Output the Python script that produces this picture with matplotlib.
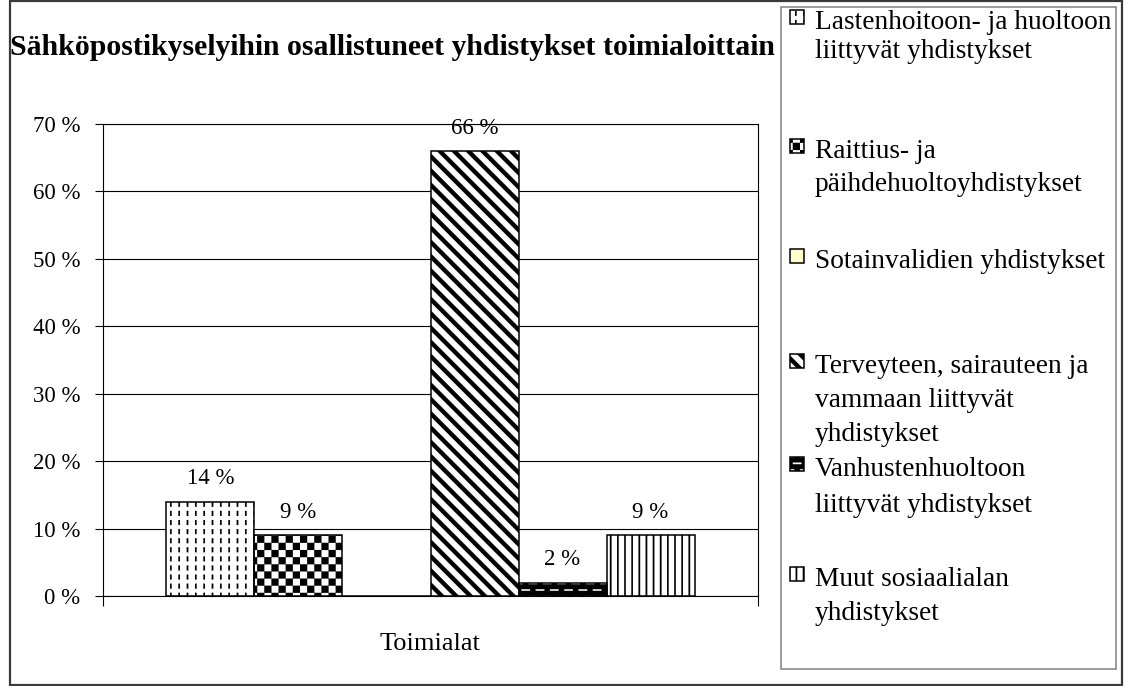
import warnings
import numpy as np
import matplotlib
matplotlib.use("Agg")
import matplotlib.pyplot as plt
import matplotlib.hatch as mhatch
from matplotlib.path import Path
from matplotlib.patches import Rectangle

warnings.filterwarnings("ignore")

# ---------------- data ----------------
title = "Sähköpostikyselyihin osallistuneet yhdistykset toimialoittain"
categories = ["Toimialat"]
series_labels = [
    "Lastenhoitoon- ja huoltoon\nliittyvät yhdistykset",
    "Raittius- ja\npäihdehuoltoyhdistykset",
    "Sotainvalidien yhdistykset",
    "Terveyteen, sairauteen ja\nvammaan liittyvät\nyhdistykset",
    "Vanhustenhuoltoon\nliittyvät yhdistykset",
    "Muut sosiaalialan\nyhdistykset",
]
values = [14, 9, 0, 66, 2, 9]
y_ticks = [0, 10, 20, 30, 40, 50, 60, 70]
y_tick_labels = ["0 %", "10 %", "20 %", "30 %", "40 %", "50 %", "60 %", "70 %"]

# ---------------- styles ----------------
face_colors = ["white", "white", "#FFFFCC", "white", "black", "white"]
hatch_colors = ["black", "black", "black", "black", "white", "black"]
hatch_codes = ["d", "c", None, "s", "b", "v"]

plt.rcParams["hatch.linewidth"] = 0.1
plt.rcParams["font.family"] = ["Liberation Serif", "DejaVu Serif"]


# ---------------- custom hatch patterns (filled polygons) ----------------
def _rect(x0, y0, w, h):
    return [(x0, y0), (x0 + w, y0), (x0 + w, y0 + h), (x0, y0 + h)]


class _PolyHatch(mhatch.HatchPatternBase):
    key = "?"

    def __init__(self, hatch, density):
        self.polys = self.build() if (hatch and self.key in hatch) else []
        self.num_vertices = 5 * len(self.polys)

    def build(self):
        return []

    def set_vertices_and_codes(self, vertices, codes):
        for i, p in enumerate(self.polys):
            vertices[5 * i:5 * i + 4] = p
            vertices[5 * i + 4] = p[0]
            codes[5 * i] = Path.MOVETO
            codes[5 * i + 1:5 * i + 4] = Path.LINETO
            codes[5 * i + 4] = Path.CLOSEPOLY


class DashVHatch(_PolyHatch):
    key = "d"

    def build(self):
        nc, nr = 12, 11
        return [_rect((i + 0.5) / nc - 0.008, (j + 0.25) / nr, 0.016, 0.05)
                for i in range(nc) for j in range(nr)]


class CheckHatch(_PolyHatch):
    key = "c"

    def build(self):
        n = 14
        s = 1.0 / n
        return [_rect(i * s, j * s, s, s)
                for i in range(n) for j in range(n) if (i + j) % 2 == 0]


class DiagHatch(_PolyHatch):
    key = "s"

    def build(self):
        n, w = 7, 0.06
        polys = []
        for k in range(-1, 2 * n + 2):
            c = k / n
            polys.append([(-1, c + 1), (2, c - 2), (2, c - 2 + w), (-1, c + 1 + w)])
        return polys


class VLineHatch(_PolyHatch):
    key = "v"

    def build(self):
        n, w = 14, 0.016
        return [_rect((i + 0.5) / n - w / 2, -0.01, w, 1.02) for i in range(n)]


class DashHHatch(_PolyHatch):
    key = "b"

    def build(self):
        nr, nc = 15, 7
        polys = []
        for j in range(nr):
            off = 0.5 if j % 2 else 0.0
            for i in range(-1, nc + 1):
                x0 = (i + off) / nc
                polys.append(_rect(x0, (j + 0.5) / nr - 0.0075, 0.6 / nc, 0.015))
        return polys


mhatch._hatch_types.extend([DashVHatch, CheckHatch, DiagHatch, VLineHatch, DashHHatch])

# ---------------- figure ----------------
W, H = 1124, 686
fig = plt.figure(figsize=(W / 100, H / 100), dpi=100)
fig.patch.set_facecolor("white")


def fx(x):
    return x / W


def fy(y):
    return 1 - y / H


ax = fig.add_axes([fx(103), fy(596), (758 - 103) / W, (596 - 124) / H])
ax.set_xlim(-0.5, 0.5)
ax.set_ylim(0, 70)

n = len(values)
bw = 0.1344
xs = [(i - (n - 1) / 2) * bw for i in range(n)]

for i in range(n):
    ax.bar(xs[i], values[i], width=bw, color=face_colors[i], hatch=hatch_codes[i],
           edgecolor=hatch_colors[i], linewidth=0, zorder=2)
    ax.bar(xs[i], values[i], width=bw, facecolor="none", edgecolor="black",
           linewidth=1.1, zorder=3)
    if values[i] > 0:
        ax.annotate(f"{values[i]} %", (xs[i], values[i]), xytext=(0, 16.5),
                    textcoords="offset points", ha="center", va="center",
                    fontsize=16.5)

ax.set_yticks(y_ticks, labels=y_tick_labels)
ax.yaxis.grid(True, color="black", linewidth=0.8)
ax.set_axisbelow(True)
ax.tick_params(axis="y", direction="out", length=5.8, width=0.8, pad=10.5,
               labelsize=16.5, colors="black")
ax.set_xticks([0], labels=categories)
ax.tick_params(axis="x", which="major", length=0, pad=27, labelsize=19)
ax.set_xticks([-0.5, 0.5], minor=True)
ax.tick_params(axis="x", which="minor", direction="out", length=7.2, width=0.8)
for sp in ax.spines.values():
    sp.set_color("black")
    sp.set_linewidth(0.8)

# outer frame
fig.add_artist(Rectangle((fx(10), fy(685)), (1122 - 10) / W, (685 - 1) / H,
                         transform=fig.transFigure, fill=False,
                         edgecolor="#3a3a3a", linewidth=1.6))

# title, fitted to width
t = fig.text(fx(10), fy(55), title, fontweight="bold", fontsize=20,
             ha="left", va="baseline")
fig.canvas.draw()
wpx = t.get_window_extent().width
t.set_fontsize(20 * (773 - 10) / wpx)

# legend box
fig.add_artist(Rectangle((fx(781), fy(669)), (1116 - 781) / W, (669 - 7) / H,
                         transform=fig.transFigure, fill=False,
                         edgecolor="#808080", linewidth=1.1))

line_baselines = [[29, 58], [158, 191], [268], [373, 407, 441], [476, 512], [586, 620]]
for i, lab in enumerate(series_labels):
    bl = line_baselines[i]
    # swatch
    sx0, sy0, ss = 790, bl[0] - 19, 14
    fig.add_artist(Rectangle((fx(sx0), fy(sy0 + ss)), ss / W, ss / H,
                             transform=fig.transFigure, facecolor=face_colors[i],
                             hatch=hatch_codes[i], edgecolor=hatch_colors[i],
                             linewidth=0))
    fig.add_artist(Rectangle((fx(sx0), fy(sy0 + ss)), ss / W, ss / H,
                             transform=fig.transFigure, facecolor="none",
                             edgecolor="black", linewidth=1.1))
    for k, line in enumerate(lab.split("\n")):
        fig.text(fx(815), fy(bl[k]), line, fontsize=19.7,
                 ha="left", va="baseline")

fig.savefig("out.png", dpi=100, facecolor="white")
